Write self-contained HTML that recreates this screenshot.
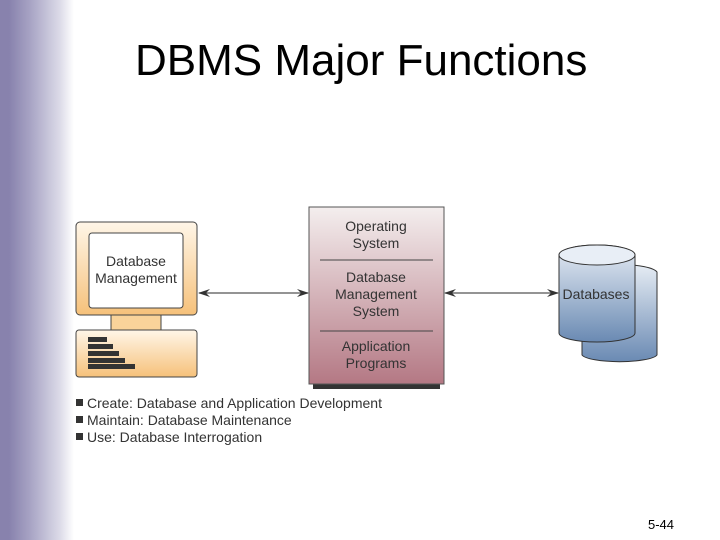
<!DOCTYPE html>
<html><head><style>
body{margin:0;width:720px;height:540px;overflow:hidden;background:#fff;font-family:"Liberation Sans",sans-serif;position:relative}
.bar{position:absolute;left:0;top:0;width:75px;height:540px;background:linear-gradient(to right,#8882ad 0px,#8882ad 9px,#a7a3c4 30px,#dcdbe8 60px,#fff 74px)}
h1{position:absolute;left:135px;top:36px;margin:0;font-weight:normal;font-size:44px;color:#000}
.pg{position:absolute;left:648px;top:517px;font-size:13px}
</style></head><body>
<div class="bar"></div>
<h1>DBMS Major Functions</h1>
<svg width="720" height="540" style="position:absolute;left:0;top:0" font-family="Liberation Sans, sans-serif">
<defs>
<linearGradient id="o" x1="0" y1="0" x2="0" y2="1"><stop offset="0" stop-color="#fff6e8"/><stop offset="1" stop-color="#f6c17a"/></linearGradient>
<linearGradient id="p" x1="0" y1="0" x2="0" y2="1"><stop offset="0" stop-color="#f4eeee"/><stop offset="1" stop-color="#b47884"/></linearGradient>
<linearGradient id="b" x1="0" y1="0" x2="0" y2="1"><stop offset="0" stop-color="#e6ecf4"/><stop offset="1" stop-color="#6a8ab3"/></linearGradient>
<marker id="ar" markerWidth="12" markerHeight="8" refX="11" refY="4" orient="auto-start-reverse" markerUnits="userSpaceOnUse"><path d="M0,0 L12,4 L0,8 L4,4z" fill="#333"/></marker>
</defs>
<rect x="76" y="222" width="121" height="93" rx="4" fill="url(#o)" stroke="#444" stroke-width="1"/>
<rect x="89" y="233" width="94" height="75" rx="3" fill="#fff" stroke="#444"/>
<text x="136" y="266" font-size="14" text-anchor="middle" fill="#333">Database</text>
<text x="136" y="283" font-size="14" text-anchor="middle" fill="#333">Management</text>
<rect x="111" y="315" width="50" height="15" fill="#f9d39a" stroke="#444"/>
<rect x="76" y="330" width="121" height="47" rx="3" fill="url(#o)" stroke="#444"/>
<g fill="#333">
<rect x="88" y="337" width="19" height="5"/><rect x="88" y="344" width="25" height="5"/><rect x="88" y="351" width="31" height="5"/><rect x="88" y="358" width="37" height="5"/><rect x="88" y="364" width="47" height="5"/>
</g>
<line x1="199" y1="293" x2="308" y2="293" stroke="#555" stroke-width="1.2" marker-start="url(#ar)" marker-end="url(#ar)"/>
<line x1="445" y1="293" x2="558" y2="293" stroke="#555" stroke-width="1.2" marker-start="url(#ar)" marker-end="url(#ar)"/>
<rect x="313" y="383" width="127" height="6" fill="#333"/>
<rect x="309" y="207" width="135" height="177" fill="url(#p)" stroke="#555"/>
<line x1="320" y1="260" x2="433" y2="260" stroke="#444"/>
<line x1="320" y1="331" x2="433" y2="331" stroke="#444"/>
<g font-size="14" text-anchor="middle" fill="#333">
<text x="376" y="231">Operating</text><text x="376" y="248">System</text>
<text x="376" y="282">Database</text><text x="376" y="299">Management</text><text x="376" y="316">System</text>
<text x="376" y="351">Application</text><text x="376" y="368">Programs</text>
</g>
<path d="M582,272 L582,355 A38,8 0 0 0 657,355 L657,272 A38,9 0 0 0 582,272z" fill="url(#b)" stroke="#333"/>
<path d="M559,255 L559,333 A38,9 0 0 0 635,333 L635,255 A38,10 0 0 0 559,255z" fill="url(#b)" stroke="#333"/>
<ellipse cx="597" cy="255" rx="38" ry="10" fill="#e8eef6" stroke="#333"/>
<text x="596" y="299" font-size="14" text-anchor="middle" fill="#333">Databases</text>
<g font-size="14" fill="#333">
<rect x="76" y="399" width="7" height="7"/><text x="87" y="408">Create: Database and Application Development</text>
<rect x="76" y="416" width="7" height="7"/><text x="87" y="425">Maintain: Database Maintenance</text>
<rect x="76" y="433" width="7" height="7"/><text x="87" y="442">Use: Database Interrogation</text>
</g>
</svg>
<div class="pg">5-44</div>
</body></html>
